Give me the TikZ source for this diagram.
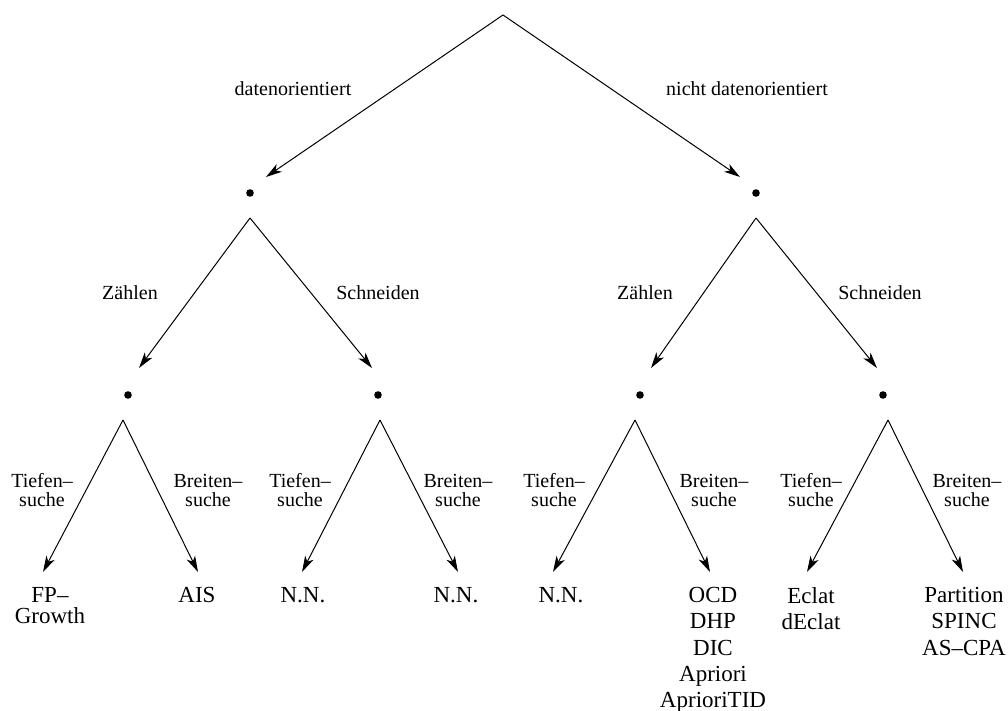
\documentclass[tikz,border=0pt]{standalone}
\usepackage{fontspec}
\setmainfont{Liberation Serif}
\usetikzlibrary{arrows.meta}
\begin{document}
\begin{tikzpicture}[x=0.5pt,y=-0.5pt,
  edge/.style={line width=0.5pt,-{Stealth[length=8pt,width=4.6pt,inset=2.2pt]}},
  lbl/.style={inner sep=0pt,font=\fontsize{10}{9.5}\selectfont,align=center},
  leaf/.style={inner sep=0pt,font=\fontsize{11.5}{13.1}\selectfont,align=center,anchor=north},
  dot/.style={circle,fill,inner sep=0pt,minimum size=3.8pt}]
\useasboundingbox (0,0) rectangle (1008,711);

% root
\coordinate (r) at (503,15);

% first level
\node[dot] (d1) at (250,193) {};
\node[dot] (d2) at (756,193) {};
\coordinate (t1) at (266,177);
\coordinate (t2) at (740,177);
\draw[edge] (r) -- (t1);
\draw[edge] (r) -- (t2);
\node[lbl,anchor=base] (l1) at (293,96) {datenorientiert};
\node[lbl,anchor=base] (l2) at (747,96) {nicht datenorientiert};

% second level
\coordinate (a1) at (250,218);
\coordinate (a2) at (756,218);
\node[dot] (e1) at (128,395) {};
\node[dot] (e2) at (378,395) {};
\node[dot] (e3) at (640,395) {};
\node[dot] (e4) at (883,395) {};
\coordinate (u1) at (139,368);
\coordinate (u2) at (372,368);
\coordinate (u3) at (651,368);
\coordinate (u4) at (877,368);
\draw[edge] (a1) -- (u1);
\draw[edge] (a1) -- (u2);
\draw[edge] (a2) -- (u3);
\draw[edge] (a2) -- (u4);
\node[lbl,anchor=base] (m1) at (130,300) {Zählen};
\node[lbl,anchor=base] (m2) at (378,300) {Schneiden};
\node[lbl,anchor=base] (m3) at (645,300) {Zählen};
\node[lbl,anchor=base] (m4) at (880,300) {Schneiden};

% third level
\coordinate (b1) at (123,420);
\coordinate (b2) at (380,420);
\coordinate (b3) at (635,420);
\coordinate (b4) at (888,420);
\coordinate (v1) at (43,572);
\coordinate (v2) at (198,572);
\coordinate (v3) at (302,572);
\coordinate (v4) at (458,572);
\coordinate (v5) at (553,572);
\coordinate (v6) at (710,572);
\coordinate (v7) at (807,572);
\coordinate (v8) at (963,572);
\draw[edge] (b1) -- (v1);
\draw[edge] (b1) -- (v2);
\draw[edge] (b2) -- (v3);
\draw[edge] (b2) -- (v4);
\draw[edge] (b3) -- (v5);
\draw[edge] (b3) -- (v6);
\draw[edge] (b4) -- (v7);
\draw[edge] (b4) -- (v8);
\node[lbl] (s1) at (42,490.5) {Tiefen–\\suche};
\node[lbl] (s2) at (208,490.5) {Breiten–\\suche};
\node[lbl] (s3) at (300,490.5) {Tiefen–\\suche};
\node[lbl] (s4) at (458,490.5) {Breiten–\\suche};
\node[lbl] (s5) at (554,490.5) {Tiefen–\\suche};
\node[lbl] (s6) at (714,490.5) {Breiten–\\suche};
\node[lbl] (s7) at (811,490.5) {Tiefen–\\suche};
\node[lbl] (s8) at (967,490.5) {Breiten–\\suche};

% leaves
\node[leaf,font=\fontsize{11.5}{10.5}\selectfont] (f1) at (50,587) {FP–\\Growth};
\node[leaf] (f2) at (197,587) {AIS};
\node[leaf] (f3) at (303,587) {N.N.};
\node[leaf] (f4) at (456,587) {N.N.};
\node[leaf] (f5) at (561,587) {N.N.};
\node[leaf] (f6) at (713,587) {OCD\\DHP\\DIC\\Apriori\\AprioriTID};
\node[leaf] (f7) at (811,587) {Eclat\\dEclat};
\node[leaf] (f8) at (964,587) {Partition\\SPINC\\AS–CPA};
\end{tikzpicture}
\end{document}
